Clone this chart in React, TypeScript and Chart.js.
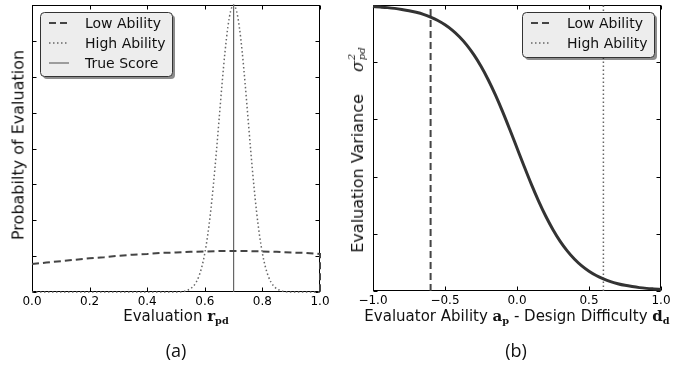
import React, { useEffect, useRef } from "react";
import { Chart, registerables } from "chart.js";
Chart.register(...registerables);

// ---------- Panel (a) data ----------
const evalX = [0, 0.05, 0.1, 0.15, 0.2, 0.25, 0.3, 0.35, 0.4, 0.45, 0.5, 0.55, 0.6, 0.65, 0.7, 0.75, 0.8, 0.85, 0.9, 0.95, 1.0, 1.0];
const lowAbilityProb = [0.78, 0.82, 0.86, 0.9, 0.94, 0.97, 1.01, 1.04, 1.06, 1.09, 1.1, 1.12, 1.13, 1.14, 1.14, 1.14, 1.13, 1.12, 1.1, 1.09, 1.06, 0];
const highX = [0, 0.51, 0.52, 0.53, 0.54, 0.55, 0.56, 0.57, 0.58, 0.59, 0.6, 0.61, 0.62, 0.63, 0.64, 0.65, 0.66, 0.67, 0.68, 0.69, 0.7, 0.71, 0.72, 0.73, 0.74, 0.75, 0.76, 0.77, 0.78, 0.79, 0.8, 0.81, 0.82, 0.83, 0.84, 0.85, 0.86, 0.87, 0.88, 0.89, 1.0];
const highAbilityProb = [0, 0, 0.01, 0.02, 0.05, 0.09, 0.16, 0.27, 0.45, 0.71, 1.08, 1.58, 2.22, 3.0, 3.89, 4.85, 5.81, 6.68, 7.38, 7.84, 8.0, 7.84, 7.38, 6.68, 5.81, 4.85, 3.89, 3.0, 2.22, 1.58, 1.08, 0.71, 0.45, 0.27, 0.16, 0.09, 0.05, 0.02, 0.01, 0, 0];
const trueScore = 0.7;
const probMax = 8;
const evalTicks = [0, 0.2, 0.4, 0.6, 0.8, 1.0];
const probTicks = [0, 1, 2, 3, 4, 5, 6, 7, 8];

// ---------- Panel (b) data ----------
const diffX = [-1.0, -0.95, -0.9, -0.85, -0.8, -0.75, -0.7, -0.65, -0.6, -0.55, -0.5, -0.45, -0.4, -0.35, -0.3, -0.25, -0.2, -0.15, -0.1, -0.05, 0, 0.05, 0.1, 0.15, 0.2, 0.25, 0.3, 0.35, 0.4, 0.45, 0.5, 0.55, 0.6, 0.65, 0.7, 0.75, 0.8, 0.85, 0.9, 0.95, 1.0];
const variance = [4.973, 4.964, 4.954, 4.941, 4.923, 4.901, 4.872, 4.836, 4.788, 4.729, 4.654, 4.561, 4.445, 4.303, 4.132, 3.929, 3.694, 3.428, 3.136, 2.823, 2.5, 2.177, 1.864, 1.572, 1.306, 1.071, 0.868, 0.697, 0.555, 0.439, 0.346, 0.271, 0.212, 0.164, 0.128, 0.099, 0.077, 0.059, 0.046, 0.036, 0.027];
const lowAbilityDiff = -0.6;
const highAbilityDiff = 0.6;
const varMax = 5;
const diffTicks = [-1.0, -0.5, 0, 0.5, 1.0];
const varTicks = [0, 1, 2, 3, 4, 5];

const FONT = "'DejaVu Sans', sans-serif";

const mplPlugin = {
  id: "mpl",
  beforeDatasetsDraw(chart: any, _args: any, opts: any) {
    const { ctx, chartArea: a, scales } = chart;
    ctx.save();
    ctx.strokeStyle = "#000";
    ctx.lineWidth = 1;
    const L = Math.round(a.left) + 0.5, R = Math.round(a.right) - 0.5;
    const T = Math.round(a.top) + 0.5, B = Math.round(a.bottom) - 0.5;
    ctx.strokeRect(L, T, R - L, B - T);
    const len = 4;
    ctx.beginPath();
    for (const v of opts.xTicks) {
      const px = Math.round(scales.x.getPixelForValue(v)) + 0.5;
      ctx.moveTo(px, B); ctx.lineTo(px, B - len);
      ctx.moveTo(px, T); ctx.lineTo(px, T + len);
    }
    for (const v of opts.yTicks) {
      const py = Math.round(scales.y.getPixelForValue(v)) + 0.5;
      ctx.moveTo(L, py); ctx.lineTo(L + len, py);
      ctx.moveTo(R, py); ctx.lineTo(R - len, py);
    }
    ctx.stroke();
    ctx.restore();
  },
  afterDatasetsDraw(chart: any, _args: any, opts: any) {
    const lg = opts.legend;
    if (!lg) return;
    const { ctx, chartArea: a } = chart;
    const x = a.left + lg.x, y = a.top + lg.y;
    ctx.save();
    const rr = (ox: number, oy: number) => {
      ctx.beginPath();
      ctx.roundRect(ox, oy, lg.w, lg.h, 4);
    };
    ctx.fillStyle = "rgba(0,0,0,0.45)";
    rr(x + 3, y + 3);
    ctx.fill();
    ctx.fillStyle = "#ededed";
    rr(x + 0.5, y + 0.5);
    ctx.fill();
    ctx.strokeStyle = "#333";
    ctx.lineWidth = 1;
    ctx.stroke();
    lg.items.forEach((it: any, i: number) => {
      const cy = y + 11 + i * 20;
      ctx.save();
      ctx.strokeStyle = it.color;
      ctx.lineWidth = it.width;
      ctx.setLineDash(it.dash);
      ctx.beginPath();
      ctx.moveTo(x + 9, cy);
      ctx.lineTo(x + 29, cy);
      ctx.stroke();
      ctx.restore();
      ctx.fillStyle = "#111";
      ctx.font = "14px " + FONT;
      ctx.textBaseline = "middle";
      ctx.fillText(it.label, x + 45, cy + 1);
    });
    ctx.restore();
  },
};

const LOW = { color: "#444", width: 2, dash: [7, 4] };
const HIGH = { color: "#666", width: 1.5, dash: [1.5, 2.5] };
const TRUE = { color: "#666", width: 1.2, dash: [] as number[] };

function xAxis(min: number, max: number, step: number, fmt: (v: number) => string) {
  return {
    type: "linear",
    min, max,
    grid: { display: false, drawTicks: false },
    border: { display: false },
    afterFit: (s: any) => { s.height = 20; },
    ticks: {
      stepSize: step,
      autoSkip: false,
      maxRotation: 0,
      padding: 3,
      color: "#000",
      font: { family: FONT, size: 12 },
      callback: (v: any) => fmt(Number(v)),
    },
  };
}

function PanelA() {
  const ref = useRef<HTMLCanvasElement>(null);
  useEffect(() => {
    const chart = new Chart(ref.current!, {
      type: "line",
      data: {
        datasets: [
          {
            label: "Low Ability",
            data: evalX.map((x, i) => ({ x, y: lowAbilityProb[i] })),
            borderColor: LOW.color, borderWidth: LOW.width, borderDash: LOW.dash,
            pointRadius: 0, tension: 0, clip: false as any,
          },
          {
            label: "High Ability",
            data: highX.map((x, i) => ({ x, y: highAbilityProb[i] })),
            borderColor: HIGH.color, borderWidth: HIGH.width, borderDash: HIGH.dash,
            pointRadius: 0, cubicInterpolationMode: "monotone", clip: false as any,
          },
          {
            label: "True Score",
            data: [{ x: trueScore, y: 0 }, { x: trueScore, y: probMax }],
            borderColor: TRUE.color, borderWidth: TRUE.width,
            pointRadius: 0,
          },
        ],
      },
      options: {
        animation: false,
        responsive: false,
        layout: { padding: { left: 32, right: 27, top: 5, bottom: 57 } },
        scales: {
          x: xAxis(0, 1, 0.2, (v) => v.toFixed(1)) as any,
          y: { type: "linear", display: false, min: 0, max: probMax },
        },
        plugins: {
          legend: { display: false },
          tooltip: { enabled: false },
          mpl: {
            xTicks: evalTicks,
            yTicks: probTicks,
            legend: {
              x: 8, y: 7, w: 132, h: 64,
              items: [
                { label: "Low Ability", ...LOW },
                { label: "High Ability", ...HIGH },
                { label: "True Score", ...TRUE },
              ],
            },
          },
        } as any,
      },
      plugins: [mplPlugin],
    } as any);
    return () => chart.destroy();
  }, []);
  return <canvas ref={ref} width={347} height={369} />;
}

function PanelB() {
  const ref = useRef<HTMLCanvasElement>(null);
  useEffect(() => {
    const chart = new Chart(ref.current!, {
      type: "line",
      data: {
        datasets: [
          {
            label: "Variance",
            data: diffX.map((x, i) => ({ x, y: variance[i] })),
            borderColor: "#333", borderWidth: 3,
            pointRadius: 0, cubicInterpolationMode: "monotone", clip: false as any,
          },
          {
            label: "Low Ability",
            data: [{ x: lowAbilityDiff, y: 0 }, { x: lowAbilityDiff, y: varMax }],
            borderColor: LOW.color, borderWidth: LOW.width, borderDash: LOW.dash,
            pointRadius: 0,
          },
          {
            label: "High Ability",
            data: [{ x: highAbilityDiff, y: 0 }, { x: highAbilityDiff, y: varMax }],
            borderColor: HIGH.color, borderWidth: HIGH.width, borderDash: HIGH.dash,
            pointRadius: 0,
          },
        ],
      },
      options: {
        animation: false,
        responsive: false,
        layout: { padding: { left: 26, right: 33, top: 5, bottom: 58 } },
        scales: {
          x: xAxis(-1, 1, 0.5, (v) => (v < 0 ? "\u2212" + Math.abs(v).toFixed(1) : v.toFixed(1))) as any,
          y: { type: "linear", display: false, min: 0, max: varMax },
        },
        plugins: {
          legend: { display: false },
          tooltip: { enabled: false },
          mpl: {
            xTicks: diffTicks,
            yTicks: varTicks,
            legend: {
              x: 149, y: 7, w: 132, h: 45,
              items: [
                { label: "Low Ability", ...LOW },
                { label: "High Ability", ...HIGH },
              ],
            },
          },
        } as any,
      },
      plugins: [mplPlugin],
    } as any);
    return () => chart.destroy();
  }, []);
  return <canvas ref={ref} width={347} height={369} />;
}

const titleFont: React.CSSProperties = { fontFamily: FONT, fontSize: 15, color: "#111", whiteSpace: "nowrap", position: "absolute" };
const mathBold: React.CSSProperties = { fontFamily: "'DejaVu Serif', serif", fontWeight: "bold" };
const sub: React.CSSProperties = { fontSize: "0.65em", position: "relative", top: "0.35em" };

export default function App() {
  return (
    <div style={{ position: "fixed", left: 0, top: 0, width: 694, height: 369, background: "#fff", overflow: "hidden" }}>
      <div style={{ position: "absolute", left: 0, top: 0 }}><PanelA /></div>
      <div style={{ position: "absolute", left: 347, top: 0 }}><PanelB /></div>

      <div style={{ ...titleFont, fontSize: 16, left: 18, top: 145, transform: "translate(-50%,-50%) rotate(-90deg)" }}>
        Probabilty of Evaluation
      </div>
      <div style={{ ...titleFont, fontSize: 16, left: 357, top: 150, transform: "translate(-50%,-50%) rotate(-90deg)", display: "flex", alignItems: "center" }}>
        <span>Evaluation Variance</span>
        <span style={{ marginLeft: 22, fontFamily: "'DejaVu Serif', serif", fontStyle: "italic", fontSize: 16 }}>σ</span>
        <span style={{ display: "inline-flex", flexDirection: "column", fontFamily: "'DejaVu Serif', serif", fontStyle: "italic", fontSize: 10, lineHeight: "10px", marginLeft: 1 }}>
          <span>2</span>
          <span>pd</span>
        </span>
      </div>

      <div style={{ ...titleFont, left: 176, top: 316, transform: "translate(-50%,-50%)" }}>
        Evaluation <span style={mathBold}>r<span style={sub}>pd</span></span>
      </div>
      <div style={{ ...titleFont, left: 517, top: 316, transform: "translate(-50%,-50%)" }}>
        Evaluator Ability <span style={mathBold}>a<span style={sub}>p</span></span> - Design Difficulty <span style={mathBold}>d<span style={sub}>d</span></span>
      </div>

      <div style={{ ...titleFont, fontFamily: "'Open Sans', sans-serif", fontSize: 18, left: 176, top: 350, transform: "translate(-50%,-50%)" }}>(a)</div>
      <div style={{ ...titleFont, fontFamily: "'Open Sans', sans-serif", fontSize: 18, left: 516, top: 350, transform: "translate(-50%,-50%)" }}>(b)</div>
    </div>
  );
}
